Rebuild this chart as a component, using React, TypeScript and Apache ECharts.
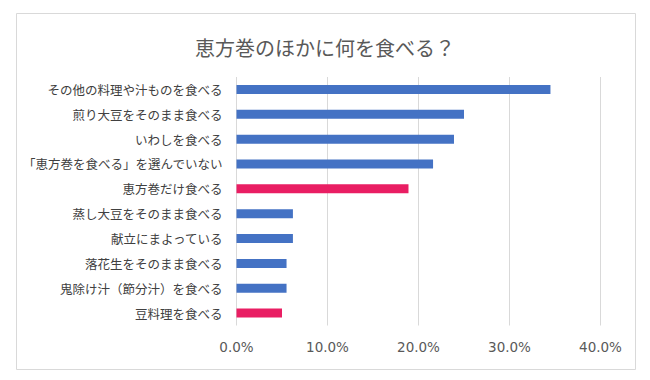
import React, { useEffect, useRef } from "react";
import * as echarts from "echarts";

const categories = [
  "その他の料理や汁ものを食べる",
  "煎り大豆をそのまま食べる",
  "いわしを食べる",
  "「恵方巻を食べる」を選んでいない",
  "恵方巻だけ食べる",
  "蒸し大豆をそのまま食べる",
  "献立にまよっている",
  "落花生をそのまま食べる",
  "鬼除け汁（節分汁）を食べる",
  "豆料理を食べる",
];
const values = [34.5, 25.0, 23.9, 21.6, 18.9, 6.2, 6.2, 5.5, 5.5, 5.0];
const highlighted = [false, false, false, false, true, false, false, false, false, true];
const xTicks = { min: 0, max: 40, interval: 10 };
const titleText = "恵方巻のほかに何を食べる？";

const BLUE = "#4472C4";
const PINK = "#E91E63";
const FONT = "'Noto Sans CJK JP', 'Noto Sans', sans-serif";

export default function App() {
  const ref = useRef<HTMLDivElement>(null);
  useEffect(() => {
    document.body.style.margin = "0";
    const chart = echarts.init(ref.current!, null, { renderer: "svg" });
    chart.setOption({
      animation: false,
      backgroundColor: "#ffffff",
      title: {
        text: titleText,
        left: "center",
        top: 32,
        textStyle: { fontFamily: FONT, fontSize: 20, fontWeight: "normal", color: "#595959" },
      },
      graphic: [
        {
          type: "rect",
          shape: { x: 16.5, y: 13.5, width: 619, height: 356 },
          style: { fill: "none", stroke: "#D9D9D9", lineWidth: 1 },
          silent: true,
          z: -1,
        },
      ],
      grid: { left: 236.5, top: 77, right: 49.5, bottom: 54.5, containLabel: false },
      xAxis: {
        type: "value",
        min: xTicks.min,
        max: xTicks.max,
        interval: xTicks.interval,
        axisLine: { show: false },
        axisTick: { show: false },
        splitLine: { show: true, lineStyle: { color: "#D9D9D9", width: 1 } },
        axisLabel: {
          formatter: (v: number) => v.toFixed(1) + "%",
          fontFamily: "'DejaVu Sans', sans-serif",
          fontSize: 13.5,
          color: "#595959",
          margin: 14,
        },
      },
      yAxis: {
        type: "category",
        inverse: true,
        data: categories,
        axisLine: { show: false },
        axisTick: { show: false },
        axisLabel: { fontFamily: FONT, fontSize: 12.5, color: "#404040", margin: 14 },
      },
      series: [
        {
          type: "bar",
          barWidth: 9,
          data: values.map((v, i) => ({
            value: v,
            itemStyle: { color: highlighted[i] ? PINK : BLUE },
          })),
        },
      ],
    });
    return () => chart.dispose();
  }, []);
  return <div ref={ref} style={{ width: 650, height: 380 }} />;
}
